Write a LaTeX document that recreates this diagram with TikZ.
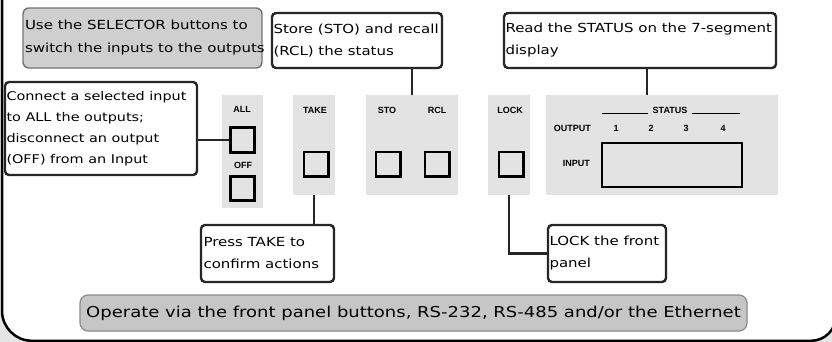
\documentclass[tikz,border=0pt]{standalone}
\usepackage{fontspec}
\newfontfamily\comic[FakeStretch=1.2]{DejaVu Sans}
\newfontfamily\lbfont{Liberation Sans}
\begin{document}
\begin{tikzpicture}[x=1pt,y=-1pt,
  callout/.style={draw=black!85, line width=2.4pt, rounded corners=4pt, fill=white, inner sep=0pt},
  greybox/.style={draw=black!55, line width=1.4pt, rounded corners=6pt, fill=gray!38, inner sep=0pt},
  txt/.style={align=left, inner sep=0pt, anchor=west, font=\comic\fontsize{12.5}{22}\selectfont},
  barbox/.style={draw=black!45, line width=1.2pt, rounded corners=8pt, fill=gray!45,
    inner sep=0pt, font=\comic\fontsize{15}{18}\selectfont},
  panel/.style={fill=gray!22, draw=none, inner sep=0pt},
  btn/.style={draw=black, line width=2.6pt, minimum size=24.4pt, inner sep=0pt},
  lbl/.style={font=\lbfont\bfseries\fontsize{9}{10}\selectfont, inner sep=0pt},
  conn/.style={draw=black!85, line width=2.6pt},
  rule/.style={draw=black, line width=1.3pt}
]
\useasboundingbox (0,0) rectangle (832,342);
% background and frame
\fill[gray!20] (0,0) rectangle (832,342);
\fill[white] (2,-60) -- (2,310.8) arc[start angle=180, end angle=90, radius=30]
  -- (811,340.8) arc[start angle=90, end angle=0, radius=25] -- (836,-60) -- cycle;
\draw[line width=2.5pt] (2,-60) -- (2,310.8) arc[start angle=180, end angle=90, radius=30]
  -- (811,340.8) arc[start angle=90, end angle=0, radius=25] -- (836,-60);

% panels
\node[panel, minimum width=41pt, minimum height=113pt] (allp) at (242.5,151.5) {};
\node[panel, minimum width=42pt, minimum height=100pt] (takep) at (314,145) {};
\node[panel, minimum width=92pt, minimum height=100pt] (stop) at (412,145) {};
\node[panel, minimum width=42pt, minimum height=100pt] (lockp) at (509,145) {};
\node[panel, minimum width=232pt, minimum height=100pt] (statp) at (662,145) {};

% panel labels
\node[lbl] (alll) at (242,109) {ALL};
\node[lbl] (offl) at (243,165) {OFF};
\node[lbl] (takel) at (315,110) {TAKE};
\node[lbl] (stol) at (387,110) {STO};
\node[lbl] (rcll) at (437,110) {RCL};
\node[lbl] (lockl) at (510,110) {LOCK};
\node[lbl] (statl) at (670,110) {STATUS};
\node[lbl, anchor=east] (outl) at (591,128) {OUTPUT};
\node[lbl, anchor=east] (inl) at (590,163) {INPUT};
\node[lbl] (n1) at (616,128) {1};
\node[lbl] (n2) at (651,128) {2};
\node[lbl] (n3) at (686,128) {3};
\node[lbl] (n4) at (723,128) {4};
\draw[rule] ([xshift=-4pt,yshift=-0.5pt]statl.base west) -- ++(-46,0);
\draw[rule] ([xshift=4pt,yshift=-0.5pt]statl.base east) -- ++(48,0);

% buttons
\node[btn] (allb) at (242.5,140) {};
\node[btn] (offb) at (242.5,188.5) {};
\node[btn] (takeb) at (316,164) {};
\node[btn] (stob) at (388,164) {};
\node[btn] (rclb) at (437,164) {};
\node[btn] (lockb) at (511,164) {};
\node[draw=black, line width=2pt, minimum width=140pt, minimum height=44pt, inner sep=0pt] (disp) at (672,165) {};

% callouts
\node[greybox, minimum width=239pt, minimum height=60pt] (sel) at (142.5,38) {};
\node[txt, font=\comic\fontsize{12.5}{23}\selectfont] (selt) at ([xshift=2.5pt]sel.west) {Use the SELECTOR buttons to\\switch the inputs to the outputs};
\node[callout, minimum width=170pt, minimum height=55pt] (store) at (357,40.5) {};
\node[txt] (storet) at ([xshift=2.5pt]store.west) {Store (STO) and recall\\(RCL) the status};
\node[callout, minimum width=272pt, minimum height=55pt] (read) at (640,40.5) {};
\node[txt] (readt) at ([xshift=2.5pt]read.west) {Read the STATUS on the 7-segment\\display};
\node[callout, minimum width=192pt, minimum height=93pt] (connect) at (101,128.5) {};
\node[txt, font=\comic\fontsize{12}{21}\selectfont] (connectt) at ([xshift=2.5pt]connect.west) {Connect a selected input\\to ALL the outputs;\\disconnect an output\\(OFF) from an Input};
\node[callout, minimum width=133pt, minimum height=57pt] (press) at (267.5,253.5) {};
\node[txt] (presst) at ([xshift=3.5pt]press.west) {Press TAKE to\\confirm actions};
\node[callout, minimum width=118pt, minimum height=57pt] (lockc) at (607,253.5) {};
\node[txt] (lockt) at ([xshift=2.5pt]lockc.west) {LOCK the front\\panel};
\node[barbox, minimum width=667pt, minimum height=36pt] (bar) at (413.5,313) {Operate via the front panel buttons, RS-232, RS-485 and/or the Ethernet};

% connectors
\draw[conn] (stop.north) -- (stop.north |- store.south);
\draw[conn] ([xshift=-15pt]statp.north) -- ([xshift=-15pt]statp.north |- read.south);
\draw[conn] (allb.west) -- (allb.west -| connect.east);
\draw[conn] (takep.south) -- (takep.south |- press.north);
\draw[conn] (lockp.south) |- (lockc.west);
\end{tikzpicture}
\end{document}
